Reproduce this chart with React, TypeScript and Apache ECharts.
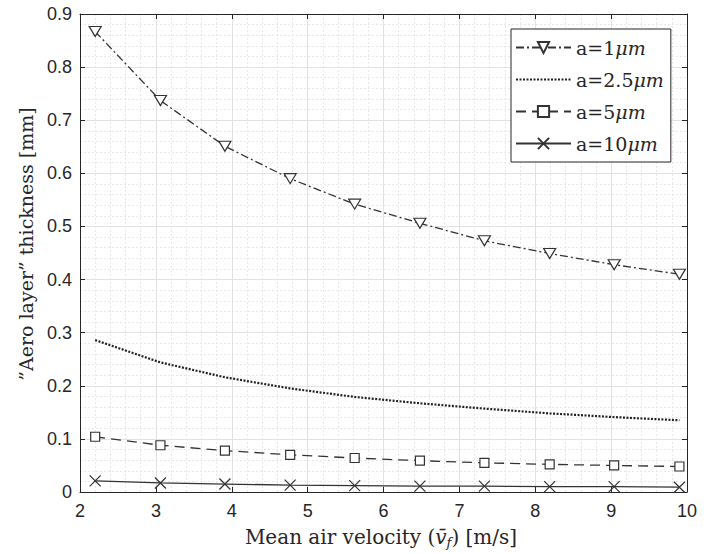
import React, { useEffect, useRef } from "react";
import * as echarts from "echarts";

const velocity = [2.2, 3.06, 3.91, 4.77, 5.62, 6.48, 7.33, 8.19, 9.04, 9.9];
const a1 = [0.867, 0.737, 0.651, 0.59, 0.542, 0.506, 0.473, 0.449, 0.428, 0.41];
const a25 = [0.286, 0.244, 0.216, 0.195, 0.179, 0.167, 0.157, 0.148, 0.141, 0.135];
const a5 = [0.104, 0.088, 0.078, 0.07, 0.064, 0.059, 0.055, 0.052, 0.05, 0.048];
const a10 = [0.021, 0.017, 0.015, 0.013, 0.012, 0.011, 0.011, 0.01, 0.01, 0.009];
const seriesNames = ["a=1μm", "a=2.5μm", "a=5μm", "a=10μm"];

const INK = "#262626";
const LINE = "#333333";
const SERIF = "DejaVu Serif";

const pair = (ys: number[]) => velocity.map((x, i) => [x, ys[i]]);

export default function App() {
  const ref = useRef<HTMLDivElement>(null);
  useEffect(() => {
    if (!ref.current) return;
    const chart = echarts.init(ref.current, null, { renderer: "svg" });
    const axisCommon = {
      axisLine: { show: true, onZero: false, lineStyle: { color: INK, width: 1 } },
      axisTick: { show: true, inside: true, length: 5, lineStyle: { color: INK } },
    };
    const tickFont = { fontFamily: "Liberation Sans", fontSize: 18, color: INK };
    chart.setOption({
      animation: false,
      backgroundColor: "#ffffff",
      grid: { left: 80, right: 38, top: 14, bottom: 62, containLabel: false },
      xAxis: [
        {
          type: "value",
          min: 2,
          max: 10,
          interval: 1,
          ...axisCommon,
          axisLabel: { ...tickFont, margin: 10 },
          minorTick: { show: false, splitNumber: 5 },
          splitLine: { show: true, lineStyle: { color: "#e2e2e2", width: 1 } },
          minorSplitLine: { show: true, lineStyle: { color: "#e8e8e8", type: [2, 2], width: 1 } },
        },
        {
          type: "value",
          position: "top",
          min: 2,
          max: 10,
          interval: 1,
          ...axisCommon,
          axisLabel: { show: false },
          splitLine: { show: false },
        },
      ],
      yAxis: [
        {
          type: "value",
          min: 0,
          max: 0.9,
          interval: 0.1,
          ...axisCommon,
          axisLabel: { ...tickFont, margin: 8, formatter: (v: number) => (v === 0 ? "0" : v.toFixed(1)) },
          minorTick: { show: false, splitNumber: 5 },
          splitLine: { show: true, lineStyle: { color: "#e2e2e2", width: 1 } },
          minorSplitLine: { show: true, lineStyle: { color: "#e8e8e8", type: [2, 2], width: 1 } },
        },
        {
          type: "value",
          position: "right",
          min: 0,
          max: 0.9,
          interval: 0.1,
          ...axisCommon,
          axisLabel: { show: false },
          splitLine: { show: false },
        },
      ],
      legend: {
        orient: "vertical",
        left: 511,
        top: 29,
        padding: [9, 7, 9, 4],
        itemWidth: 55,
        itemHeight: 14,
        itemGap: 13,
        backgroundColor: "#ffffff",
        borderColor: INK,
        borderWidth: 1,
        borderRadius: 0,
        data: [
          { name: seriesNames[0] },
          { name: seriesNames[1], itemStyle: { color: "transparent", borderColor: "transparent", borderWidth: 0 } },
          { name: seriesNames[2] },
          { name: seriesNames[3] },
        ],
        formatter: (n: string) => n.replace("μm", "{i|μm}"),
        textStyle: {
          fontFamily: SERIF,
          fontSize: 19,
          color: INK,
          rich: { i: { fontFamily: SERIF, fontStyle: "italic", fontSize: 19, color: INK } },
        },
      },
      graphic: [
        {
          type: "text",
          x: 381,
          y: 537,
          style: {
            text: "Mean air velocity ({i|v̄}{s|f}) [m/s]",
            font: `20px '${SERIF}'`,
            fill: INK,
            align: "center",
            verticalAlign: "middle",
            rich: {
              i: { fontFamily: SERIF, fontStyle: "italic", fontSize: 20, fill: INK },
              s: { fontFamily: SERIF, fontStyle: "italic", fontSize: 13, fill: INK, padding: [10, 0, 0, 0] },
            },
          },
        },
        {
          type: "text",
          x: 26,
          y: 244,
          rotation: Math.PI / 2,
          style: {
            text: "”Aero layer” thickness [mm]",
            font: `19px '${SERIF}'`,
            fill: INK,
            align: "center",
            verticalAlign: "middle",
          },
        },
      ],
      series: [
        {
          name: seriesNames[0],
          type: "line",
          data: pair(a1),
          symbol: "path://M0,0L10,0L5,8.66Z",
          symbolSize: [12, 10],
          color: LINE,
          itemStyle: { color: "#ffffff", borderColor: LINE, borderWidth: 1.2 },
          lineStyle: { color: LINE, width: 1.3, type: [8, 3, 2, 3] },
          z: 5,
        },
        {
          name: seriesNames[1],
          type: "line",
          data: pair(a25),
          symbol: "none",
          showSymbol: false,
          color: LINE,
          lineStyle: { color: "#222", width: 2.2, type: [2, 1.5] },
        },
        {
          name: seriesNames[2],
          type: "line",
          data: pair(a5),
          symbol: "rect",
          symbolSize: 9,
          color: LINE,
          itemStyle: { color: "#ffffff", borderColor: LINE, borderWidth: 1.2 },
          lineStyle: { color: LINE, width: 1.3, type: [10, 6] },
          z: 5,
        },
        {
          name: seriesNames[3],
          type: "line",
          data: pair(a10),
          symbol: "path://M0,0L10,10M10,0L0,10",
          symbolSize: 11,
          color: LINE,
          itemStyle: { color: "#ffffff", borderColor: LINE, borderWidth: 1.2 },
          lineStyle: { color: LINE, width: 1.3 },
          z: 5,
        },
      ],
    });
    return () => chart.dispose();
  }, []);
  return <div ref={ref} style={{ width: 725, height: 554, position: "absolute", left: 0, top: 0 }} />;
}
